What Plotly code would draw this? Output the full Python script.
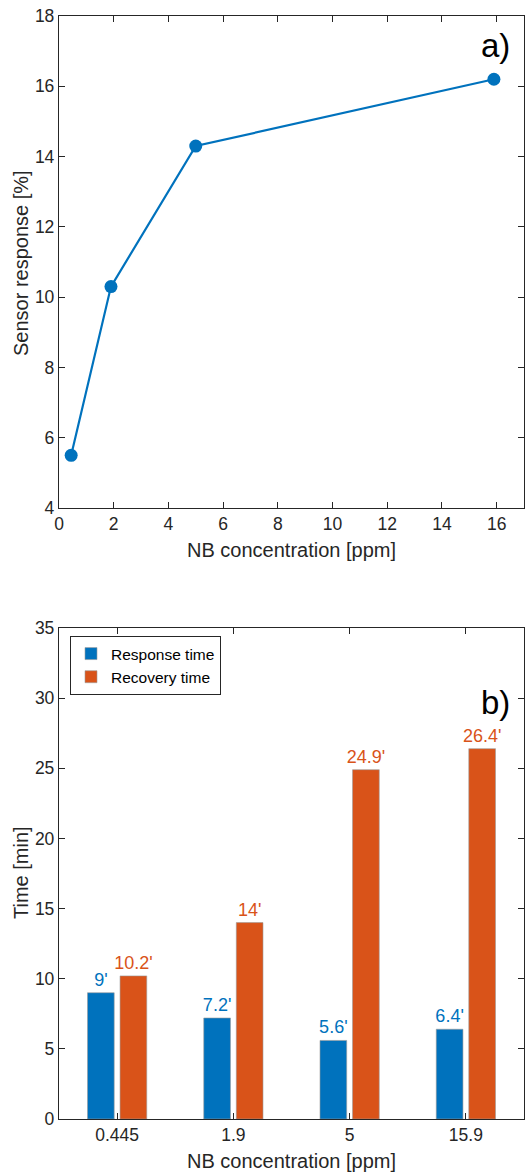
import plotly.graph_objects as go

# ---- data ----
conc = [0.445, 1.9, 5, 15.9]
sensor_response = [5.5, 10.3, 14.3, 16.2]

categories = ["0.445", "1.9", "5", "15.9"]
response_time = [9, 7.2, 5.6, 6.4]
recovery_time = [10.2, 14, 24.9, 26.4]
response_labels = ["9'", "7.2'", "5.6'", "6.4'"]
recovery_labels = ["10.2'", "14'", "24.9'", "26.4'"]

BLUE = "#0072BD"
ORANGE = "#D95319"
INK = "#262626"
FONT = "Liberation Sans, Arial, sans-serif"

W, H = 525, 1173
def py(y):
    return 1 - y / H
def px(x):
    return x / W

fig = go.Figure()

fig.add_trace(go.Scatter(
    x=conc, y=sensor_response, mode="lines+markers",
    line=dict(color=BLUE, width=2.2), marker=dict(color=BLUE, size=13),
    xaxis="x", yaxis="y", showlegend=False, cliponaxis=False))

fig.add_trace(go.Bar(
    x=categories, y=response_time, name="Response time",
    marker=dict(color=BLUE, line=dict(color="#9a9a9a", width=0.6)),
    text=response_labels, textposition="outside", cliponaxis=False,
    constraintext="none",
    textfont=dict(color=BLUE, size=18, family=FONT),
    xaxis="x2", yaxis="y2"))
fig.add_trace(go.Bar(
    x=categories, y=recovery_time, name="Recovery time",
    marker=dict(color=ORANGE, line=dict(color="#9a9a9a", width=0.6)),
    text=recovery_labels, textposition="outside", cliponaxis=False,
    constraintext="none",
    textfont=dict(color=ORANGE, size=18, family=FONT),
    xaxis="x2", yaxis="y2"))

axis_common = dict(
    showline=True, linecolor=INK, linewidth=1.3, mirror="ticks",
    ticks="inside", ticklen=6, tickcolor=INK, tickwidth=1.2,
    showgrid=False, zeroline=False, automargin=False,
    tickfont=dict(size=17.5, color=INK, family=FONT),
)
xd = [px(59), px(524)]

title_font = dict(size=20, color=INK, family=FONT)

def label(text, x, y, angle=0, font=title_font):
    return dict(text=text, x=px(x), y=py(y), xref="paper", yref="paper",
                xanchor="center", yanchor="middle", showarrow=False,
                textangle=angle, font=font)

fig.update_layout(
    width=W, height=H,
    margin=dict(l=0, r=0, t=0, b=0),
    paper_bgcolor="white", plot_bgcolor="white",
    font=dict(family=FONT, color=INK),
    barmode="group", bargap=0.44, bargroupgap=0.18,
    xaxis=dict(domain=xd, anchor="y", range=[0, 17], tickvals=list(range(0, 17, 2)),
               **axis_common),
    yaxis=dict(domain=[py(508), py(16)], anchor="x", range=[4, 18], tickvals=list(range(4, 19, 2)),
               **axis_common),
    xaxis2=dict(domain=xd, anchor="y2", range=[-0.5, 3.5], type="category",
                **axis_common),
    yaxis2=dict(domain=[py(1119), py(628)], anchor="x2", range=[0, 35], tickvals=list(range(0, 36, 5)),
                **axis_common),
    legend=dict(x=px(70), y=py(636), xanchor="left", yanchor="top",
                bordercolor=INK, borderwidth=1, bgcolor="white",
                font=dict(size=15.5, color="black", family=FONT),
                tracegroupgap=0, itemwidth=30),
    annotations=[
        label("NB concentration [ppm]", (59 + 524) / 2, 550),
        label("Sensor response [%]", 21, 263, angle=-90),
        label("NB concentration [ppm]", (59 + 524) / 2, 1161),
        label("Time [min]", 21, 873, angle=-90),
        label("a)", 495, 46, font=dict(size=33, color="black", family=FONT)),
        label("b)", 495, 702, font=dict(size=33, color="black", family=FONT)),
    ],
)

fig.write_html("out.html", config={"displayModeBar": False},
               post_script="document.body.style.margin='0';document.body.style.overflow='hidden';")
